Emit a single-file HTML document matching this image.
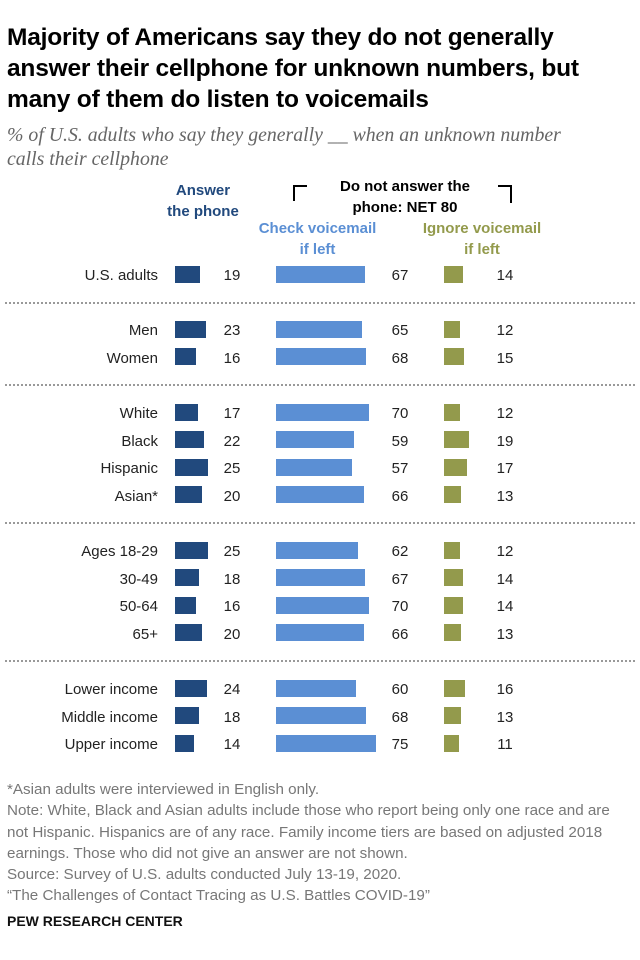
<!DOCTYPE html>
<html><head><meta charset="utf-8"><style>
body{margin:0;width:640px;height:960px;background:#fff;font-family:"Liberation Sans",sans-serif;position:relative;overflow:hidden}
.a{position:absolute;white-space:nowrap}
</style></head><body>
<div class="a" style="left:7px;top:22px;font-size:24.5px;font-weight:bold;line-height:31px;color:#000;letter-spacing:-0.2px">Majority of Americans say they do not generally<br>answer their cellphone for unknown numbers, but<br>many of them do listen to voicemails</div>
<div class="a" style="left:7px;top:123px;font-family:'Liberation Serif',serif;font-style:italic;font-size:19.8px;line-height:24px;color:#666">% of U.S. adults who say they generally __ when an unknown number<br>calls their cellphone</div>
<div class="a" style="left:158px;top:180px;width:90px;text-align:center;font-weight:bold;font-size:15px;line-height:21px;color:#21497d">Answer<br>the phone</div>
<div class="a" style="left:320px;top:176px;width:170px;text-align:center;font-weight:bold;font-size:15px;line-height:21px;color:#000">Do not answer the<br>phone: NET 80</div>
<div class="a" style="left:293px;top:185px;width:12px;height:14px;border-left:2px solid #000;border-top:2px solid #000"></div>
<div class="a" style="left:498px;top:185px;width:12px;height:16px;border-right:2px solid #000;border-top:2px solid #000"></div>
<div class="a" style="left:250px;top:218px;width:135px;text-align:center;font-weight:bold;font-size:15px;line-height:21px;color:#5b8fd4">Check voicemail<br>if left</div>
<div class="a" style="left:412px;top:218px;width:140px;text-align:center;font-weight:bold;font-size:15px;line-height:21px;color:#939a4c">Ignore voicemail<br>if left</div>
<div id="chart"></div>
<div class="a" style="left:7px;top:779px;font-size:15.2px;line-height:21.3px;color:#777">*Asian adults were interviewed in English only.<br>Note: White, Black and Asian adults include those who report being only one race and are<br>not Hispanic. Hispanics are of any race. Family income tiers are based on adjusted 2018<br>earnings. Those who did not give an answer are not shown.<br>Source: Survey of U.S. adults conducted July 13-19, 2020.<br>“The Challenges of Contact Tracing as U.S. Battles COVID-19”</div>
<div class="a" style="left:7px;top:913px;font-size:14px;font-weight:bold;color:#111">PEW RESEARCH CENTER</div>
<script>
const categories=["U.S. adults","Men","Women","White","Black","Hispanic","Asian*","Ages 18-29","30-49","50-64","65+","Lower income","Middle income","Upper income"];
const answerVals=[19,23,16,17,22,25,20,25,18,16,20,24,18,14];
const checkVals=[67,65,68,70,59,57,66,62,67,70,66,60,68,75];
const ignoreVals=[14,12,15,12,19,17,13,12,14,14,13,16,13,11];
const groupBreaks=[1,3,7,11];
const c=document.getElementById('chart');
const sc=v=>v*1.33;
const rowY=i=>{let g=groupBreaks.filter(b=>b<=i).length;return 274+(i-g)*27.6+g*55.2;};
function mk(css,txt){const d=document.createElement('div');d.className='a';d.style.cssText=css;if(txt!==undefined)d.textContent=txt;c.appendChild(d);return d;}
categories.forEach((cat,i)=>{
 const y=rowY(i);
 let el=mk(`right:${640-158}px;top:${y-7}px;font-size:15px;color:#222`,cat);
 
 
 const series=[[answerVals,175,'#21497d',232],[checkVals,276,'#5b8fd4',400],[ignoreVals,444,'#939a4c',505]];
 series.forEach(([arr,x0,col,tx],k)=>{
  let b=mk(`left:${x0}px;top:${y-8.5}px;width:${sc(arr[i])}px;height:17px;background:${col}`);
  
  
  let t=mk(`left:${tx-20}px;width:40px;text-align:center;top:${y-7}px;font-size:15px;color:#222`,arr[i]);
  
  
 });
});
groupBreaks.forEach(b=>{
 const y=(rowY(b-1)+rowY(b))/2;
 let s=mk(`left:5px;width:630px;top:${y}px;border-top:2px dotted #999`);
 
 
});
</script>
</body></html>
